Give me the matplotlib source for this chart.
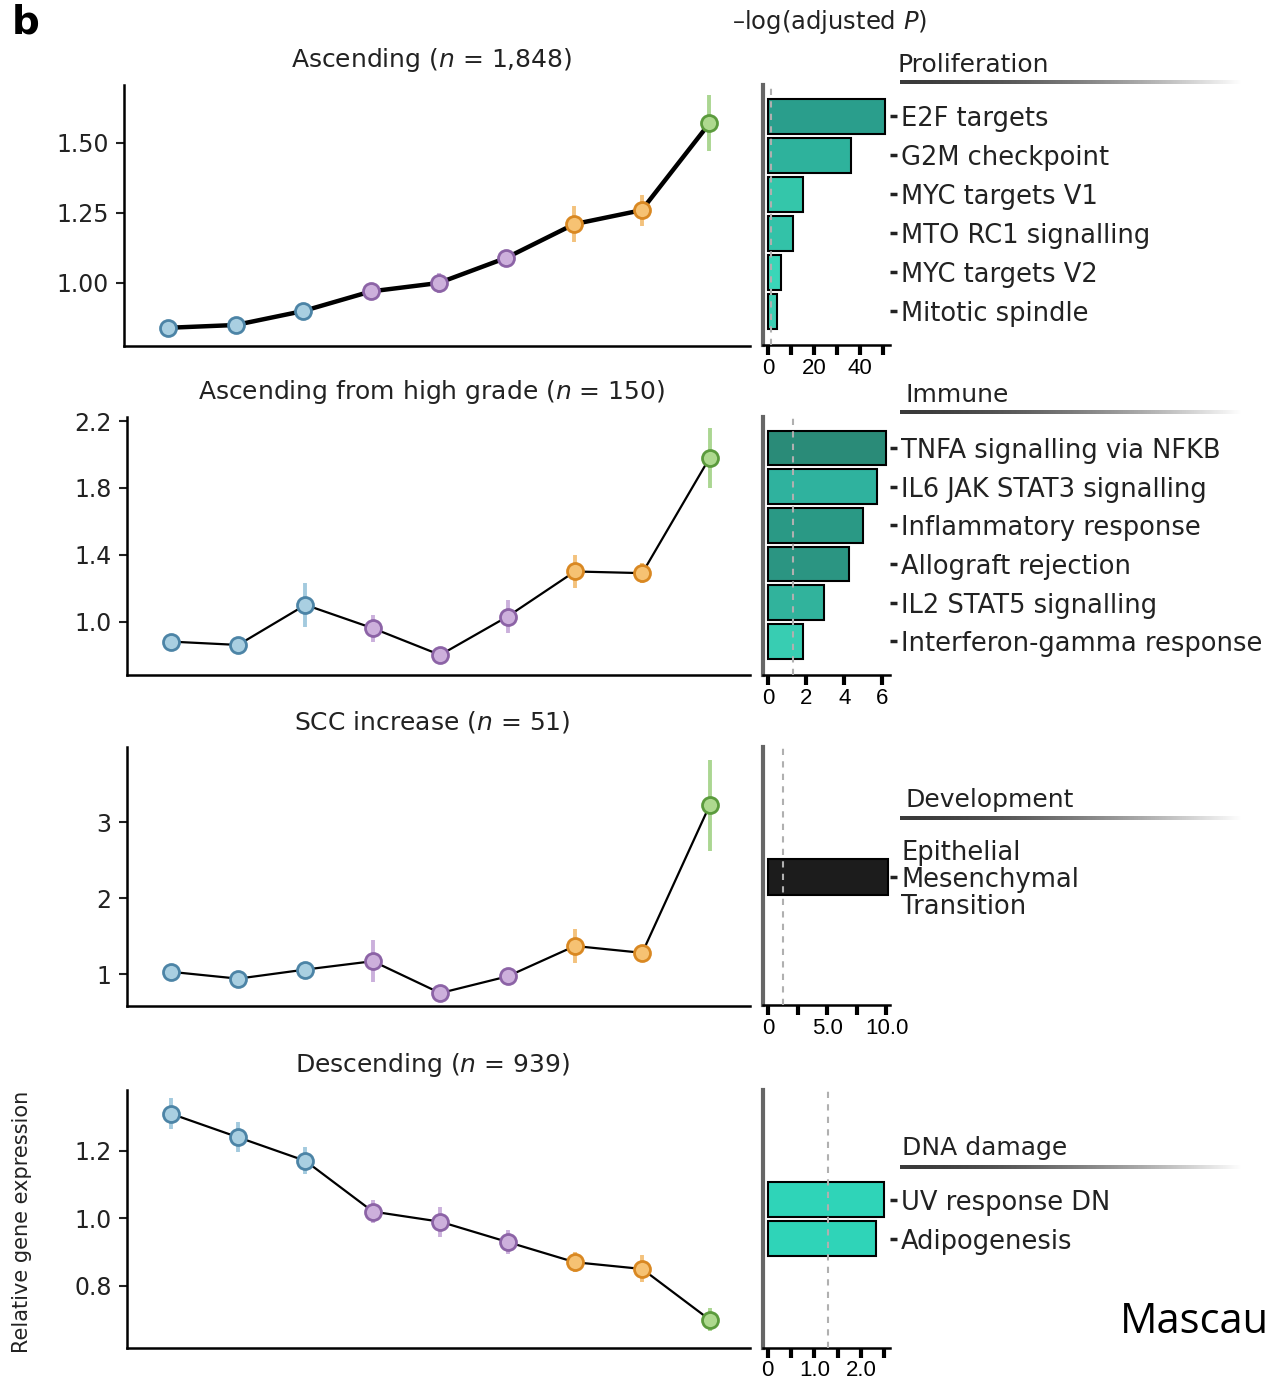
import numpy as np
import matplotlib
matplotlib.use("Agg")
import matplotlib.pyplot as plt
from matplotlib.colors import LinearSegmentedColormap

plt.rcParams['font.family'] = ['DejaVu Sans']
plt.rcParams['mathtext.fontset'] = 'dejavusans'

# stages along the progression (x positions) and their colour group
stages = [1, 2, 3, 4, 5, 6, 7, 8, 9]
groups = ['blue', 'blue', 'blue', 'purple', 'purple', 'purple', 'orange', 'orange', 'green']

asc_vals = [0.84, 0.85, 0.90, 0.97, 1.00, 1.09, 1.21, 1.26, 1.57]
asc_err = [0.015, 0.015, 0.02, 0.02, 0.035, 0.025, 0.065, 0.055, 0.10]
high_vals = [0.88, 0.86, 1.10, 0.96, 0.80, 1.03, 1.30, 1.29, 1.98]
high_err = [0.03, 0.03, 0.13, 0.08, 0.04, 0.10, 0.10, 0.06, 0.18]
scc_vals = [1.03, 0.94, 1.06, 1.17, 0.75, 0.97, 1.37, 1.28, 3.22]
scc_err = [0.05, 0.05, 0.06, 0.28, 0.06, 0.05, 0.22, 0.07, 0.60]
desc_vals = [1.31, 1.24, 1.17, 1.02, 0.99, 0.93, 0.87, 0.85, 0.70]
desc_err = [0.045, 0.045, 0.04, 0.035, 0.045, 0.035, 0.03, 0.04, 0.035]

prolif_terms = ['E2F targets', 'G2M checkpoint', 'MYC targets V1', 'MTO RC1 signalling',
                'MYC targets V2', 'Mitotic spindle']
prolif_vals = [51, 36, 15, 11, 5.5, 4]
immune_terms = ['TNFA signalling via NFKB', 'IL6 JAK STAT3 signalling', 'Inflammatory response',
                'Allograft rejection', 'IL2 STAT5 signalling', 'Interferon-gamma response']
immune_vals = [6.2, 5.7, 5.0, 4.26, 2.95, 1.84]
dev_terms = ['Epithelial\nMesenchymal\nTransition']
dev_vals = [10.1]
dna_terms = ['UV response DN', 'Adipogenesis']
dna_vals = [2.5, 2.32]

threshold = 1.3  # -log10(0.05)

face = {'blue': '#a9cfe1', 'purple': '#cdb0dc', 'orange': '#f6c273', 'green': '#aed98f'}
edge = {'blue': '#4c84a6', 'purple': '#8c63a6', 'orange': '#d98822', 'green': '#5b9b3d'}
errc = {'blue': '#93c1d9', 'purple': '#c2a3d6', 'orange': '#f2b866', 'green': '#9ccf7f'}

W, H = 1268, 1383
fig = plt.figure(figsize=(W / 100, H / 100), dpi=100)


def rect(x0, y0, x1, y1):
    return [x0 / W, 1 - y1 / H, (x1 - x0) / W, (y1 - y0) / H]


def line_panel(box, vals, errs, ylim, yticks, ylabels, title, lw):
    ax = fig.add_axes(rect(*box))
    ax.plot(stages, vals, color='black', lw=lw, zorder=2)
    for x, v, e, g in zip(stages, vals, errs, groups):
        ax.plot([x, x], [v - e, v + e], color=errc[g], lw=2.8, alpha=0.85, zorder=1,
                solid_capstyle='butt')
        ax.plot(x, v, 'o', ms=11.5, mfc=face[g], mec=edge[g], mew=2, zorder=3)
    ax.set_xlim(0.35, 9.6)
    ax.set_ylim(*ylim)
    ax.set_yticks(yticks)
    ax.set_yticklabels(ylabels)
    ax.set_xticks([])
    for s in ['top', 'right']:
        ax.spines[s].set_visible(False)
    for s in ['left', 'bottom']:
        ax.spines[s].set_linewidth(1.8)
    ax.tick_params(axis='y', length=6, width=1.5, labelsize=17, pad=5, colors='#222222')
    fig.text(432 / W, 1 - (box[1] - 25) / H, title,
             ha='center', va='center', fontsize=18, color='#222222')
    return ax


def bar_panel(box, terms, vals, colors, ylim, xlim, major, minor, majlabels):
    ax = fig.add_axes(rect(*box))
    ypos = np.arange(len(terms))
    ax.barh(ypos, vals, height=0.9, color=colors, edgecolor='black', lw=1.5, zorder=2)
    ax.axvline(threshold, color='#b0b0b0', lw=1.5, ls=(0, (3, 3)), zorder=3)
    ax.set_ylim(*ylim)
    ax.set_xlim(*xlim)
    ax.set_yticks(ypos)
    ax.set_yticklabels(terms, ha='left', linespacing=1.05)
    ax.yaxis.tick_right()
    ax.tick_params(axis='y', length=5, width=2.5, labelsize=18.5, pad=3, colors='#222222',
                   direction='out')
    ax.set_xticks(major)
    ax.set_xticklabels(majlabels, family=['Liberation Sans', 'DejaVu Sans'])
    ax.set_xticks(minor, minor=True)
    ax.tick_params(axis='x', which='both', length=7, width=3, labelsize=16, pad=2,
                   direction='out')
    for s in ['top', 'right']:
        ax.spines[s].set_visible(False)
    ax.spines['left'].set_linewidth(3)
    ax.spines['left'].set_color('#666666')
    ax.spines['bottom'].set_linewidth(1.8)
    return ax


def header(text, x, y_text, y_line):
    fig.text(x / W, 1 - y_text / H, text, ha='left', va='center', fontsize=18,
             color='#222222')
    gax = fig.add_axes(rect(900, y_line - 2, 1242, y_line + 2))
    grad = np.linspace(0, 1, 256) ** 1.6
    cmap = LinearSegmentedColormap.from_list('fade', ['#3a3a3a', '#ffffff'])
    gax.imshow(grad[None, :], aspect='auto', cmap=cmap, vmin=0, vmax=1)
    gax.axis('off')


# line panels
line_panel((124, 85, 750, 346), asc_vals, asc_err, (0.775, 1.707),
           [1.00, 1.25, 1.50], ['1.00', '1.25', '1.50'], 'Ascending ($n$ = 1,848)', 3.2)
line_panel((127, 417, 750, 675), high_vals, high_err, (0.68, 2.225),
           [1.0, 1.4, 1.8, 2.2], ['1.0', '1.4', '1.8', '2.2'],
           'Ascending from high grade ($n$ = 150)', 1.6)
line_panel((127, 747, 750, 1006), scc_vals, scc_err, (0.58, 3.99),
           [1, 2, 3], ['1', '2', '3'], 'SCC increase ($n$ = 51)', 1.6)
ax4 = line_panel((127, 1090, 750, 1348), desc_vals, desc_err, (0.616, 1.38),
                 [0.8, 1.0, 1.2], ['0.8', '1.0', '1.2'], 'Descending ($n$ = 939)', 1.6)
fig.text(22 / W, 1 - 1222 / H, 'Relative gene expression', rotation=90, ha='center',
         va='center', fontsize=15, color='#222222')

# enrichment bar panels
bar_panel((763, 85, 890, 345), prolif_terms, prolif_vals,
          ['#2a9e8c', '#2eb29c', '#34c6aa', '#33c2a8', '#3ad6b8', '#3ccdb2'],
          (5.87, -0.8), (-2.2, 53), [0, 20, 40], [10, 30, 50], ['0', '20', '40'])
bar_panel((763, 417, 890, 675), immune_terms, immune_vals,
          ['#2a8b78', '#2fb29e', '#2a9985', '#2b9582', '#31b39c', '#38cdb2'],
          (5.87, -0.8), (-0.26, 6.4), [0, 2, 4, 6], [], ['0', '2', '4', '6'])
bar_panel((763, 747, 890, 1005), dev_terms, dev_vals, ['#1c1c1c'],
          (3.28, -3.33), (-0.43, 10.3), [0, 5, 10], [2.5, 7.5], ['0', '5.0', '10.0'])
bar_panel((763, 1090, 890, 1348), dna_terms, dna_vals, ['#2fd4b8', '#2fd4b8'],
          (3.8, -2.82), (-0.1, 2.62), [0, 1, 2], [0.5, 1.5, 2.5], ['0', '1.0', '2.0'])

header('Proliferation', 898, 65, 82)
header('Immune', 906, 395, 412)
header('Development', 906, 800, 818)
header('DNA damage', 902, 1148, 1167)

fig.text(830 / W, 1 - 22 / H, '\u2013log(adjusted $P$)', ha='center', va='center',
         fontsize=17.5, color='#222222')
fig.text(12 / W, 1 - 22 / H, 'b', ha='left', va='center', fontsize=28,
         fontweight='bold')
fig.text(1120 / W, 1 - 1322 / H, 'Mascau', ha='left', va='center', fontsize=30,
         family=['Open Sans', 'DejaVu Sans'])

fig.savefig('out.png', dpi=100)
